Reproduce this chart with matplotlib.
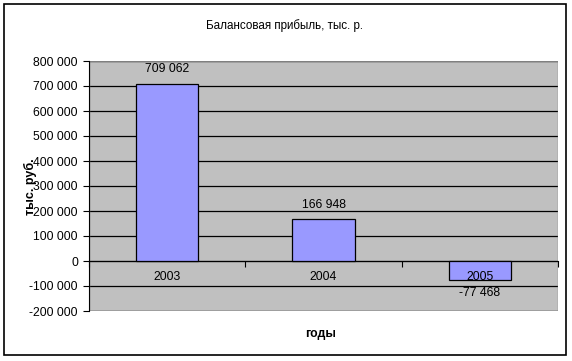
import matplotlib.pyplot as plt
import numpy as np
from matplotlib.patches import Rectangle
from matplotlib.ticker import FuncFormatter

years = ['2003', '2004', '2005']
profit = [709062, 166948, -77468]
yticks = [-200000, -100000, 0, 100000, 200000, 300000, 400000, 500000, 600000, 700000, 800000]

plt.rcParams['font.family'] = ['Liberation Sans', 'DejaVu Sans']

fig = plt.figure(figsize=(5.72, 3.61), dpi=100)
ax = fig.add_axes([89/572, 1 - 311/361, 469/572, 250/361])

# рамка вокруг всей диаграммы
fig.patches.append(Rectangle((4/572, 6/361), 562/572, 351/361, transform=fig.transFigure,
                             fill=False, edgecolor='black', linewidth=1.2))

x = np.arange(len(years))
ax.set_facecolor('#C0C0C0')
ax.bar(x, profit, width=0.4, color='#9999FF', edgecolor='black', linewidth=0.9, zorder=3)

ax.set_xlim(-0.5, 2.5)
ax.set_ylim(-200000, 800000)
ax.set_yticks(yticks)
ax.yaxis.set_major_formatter(FuncFormatter(lambda v, p: f'{int(v):,}'.replace(',', ' ')))
ax.grid(axis='y', color='black', linewidth=0.9, zorder=1)
ax.set_axisbelow(True)

# ось категорий проходит через ноль
ax.spines['bottom'].set_position(('data', 0))
ax.spines['bottom'].set_color('black')
ax.spines['left'].set_color('black')
for s in ['top', 'right']:
    ax.spines[s].set_visible(False)
ax.add_patch(Rectangle((0, 0), 1, 1, transform=ax.transAxes, fill=False,
                       edgecolor='#808080', linewidth=1.0, zorder=2))

ax.set_xticks([-0.5, 0.5, 1.5, 2.5])
ax.set_xticklabels([])
ax.set_xticks(x, minor=True)
ax.set_xticklabels(years, minor=True)
ax.tick_params(axis='x', which='major', length=4, direction='out', color='black')
ax.tick_params(axis='x', which='minor', length=0, pad=7, labelsize=8.8)
ax.tick_params(axis='y', length=4, direction='out', labelsize=8.7, pad=4)
ax.xaxis.set_zorder(5)

for xi, v in zip(x, profit):
    lbl = f'{v:,}'.replace(',', ' ')
    if v >= 0:
        ax.annotate(lbl, (xi, v), xytext=(0, 10.5), textcoords='offset points',
                    ha='center', va='center', fontsize=8.8)
    else:
        ax.annotate(lbl, (xi, v), xytext=(0, -9), textcoords='offset points',
                    ha='center', va='center', fontsize=8.8)

fig.text(285/572, 1 - 26/361, 'Балансовая прибыль, тыс. р.', ha='center', va='center', fontsize=8.4)
fig.text(30/572, 1 - 187/361, 'тыс. руб.', rotation=90, ha='center', va='center',
         fontsize=9, fontweight='bold')
fig.text(321/572, 1 - 334/361, 'годы', ha='center', va='center', fontsize=8.8, fontweight='bold')

fig.savefig('out.png', dpi=100)
